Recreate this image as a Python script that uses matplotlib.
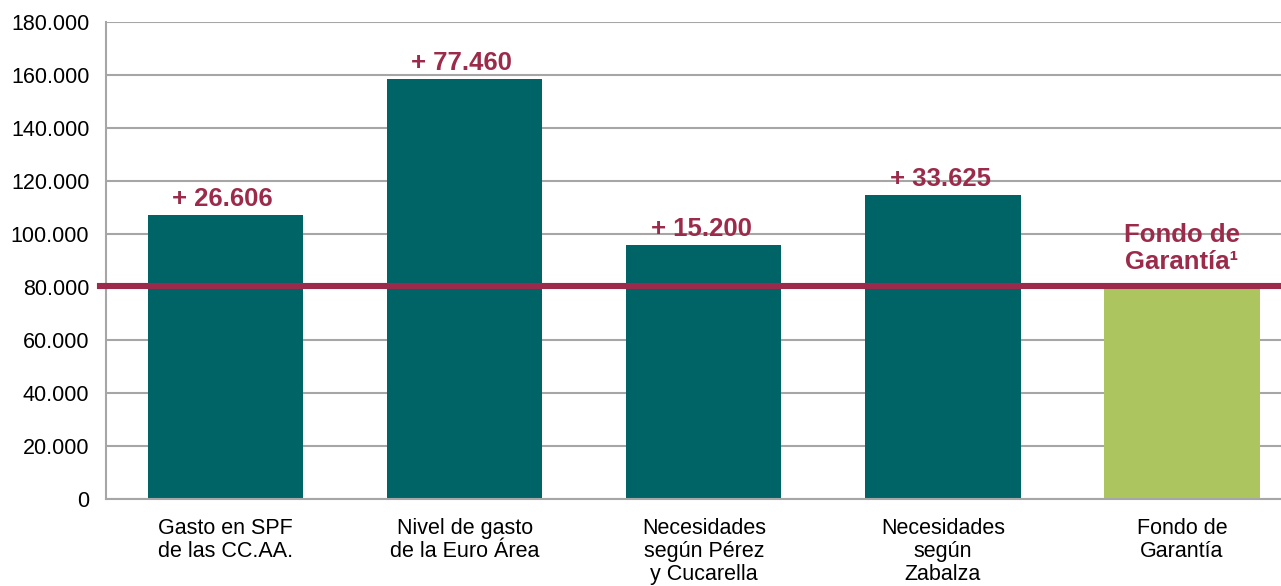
import matplotlib.pyplot as plt
import numpy as np
from matplotlib.ticker import FuncFormatter

plt.rcParams['font.family'] = ['Liberation Sans', 'DejaVu Sans']

categories = ["Gasto en SPF\nde las CC.AA.", "Nivel de gasto\nde la Euro Área",
              "Necesidades\nsegún Pérez\ny Cucarella", "Necesidades\nsegún\nZabalza",
              "Fondo de\nGarantía"]
values = [107200, 158400, 95900, 114700, 79300]
labels = ["+ 26.606", "+ 77.460", "+ 15.200", "+ 33.625", None]
fondo_level = 80500

teal = "#006466"
green = "#ADC55F"
crimson = "#9C2B4B"
grid_gray = "#A6A6A6"

fig = plt.figure(figsize=(12.81, 5.86), dpi=100)
ax = fig.add_axes([106/1281, 87/586, 1195.5/1281, 477/586])

x = np.arange(len(categories))
colors = [teal]*4 + [green]
bars = ax.bar(x, values, width=0.65, color=colors, zorder=2)

ax.axhline(fondo_level, xmin=-0.005, xmax=1, color=crimson, lw=4.4, zorder=3, clip_on=False)

for b, lab in zip(bars, labels):
    if lab is None:
        continue
    ax.annotate(lab, (b.get_x() + b.get_width()/2, b.get_height()), xytext=(-2, 3),
                textcoords='offset points', ha='center', va='bottom',
                fontsize=18.5, fontweight='bold', color=crimson)

ax.text(x[-1], 94500, "Fondo de\nGarantía¹", ha='center', va='center', fontsize=18.5,
        fontweight='bold', color=crimson, linespacing=1.15, zorder=4)

ax.set_xlim(-0.5, len(categories) - 0.5)
ax.set_ylim(0, 180000)
ax.set_yticks(np.arange(0, 180001, 20000))
ax.yaxis.set_major_formatter(FuncFormatter(lambda v, p: f"{int(v):,}".replace(",", ".")))
ax.set_xticks(x)
ax.set_xticklabels(categories, fontsize=15.5, va='top', linespacing=1.12)

ax.grid(axis='y', color=grid_gray, lw=1.5, zorder=0)
ax.tick_params(axis='y', length=0, pad=12, labelsize=15.5)
ax.tick_params(axis='x', length=0, pad=14)
for s in ['top', 'right']:
    ax.spines[s].set_visible(False)
for s in ['left', 'bottom']:
    ax.spines[s].set_color(grid_gray)
    ax.spines[s].set_linewidth(1.5)

fig.savefig('out.png', dpi=100)
